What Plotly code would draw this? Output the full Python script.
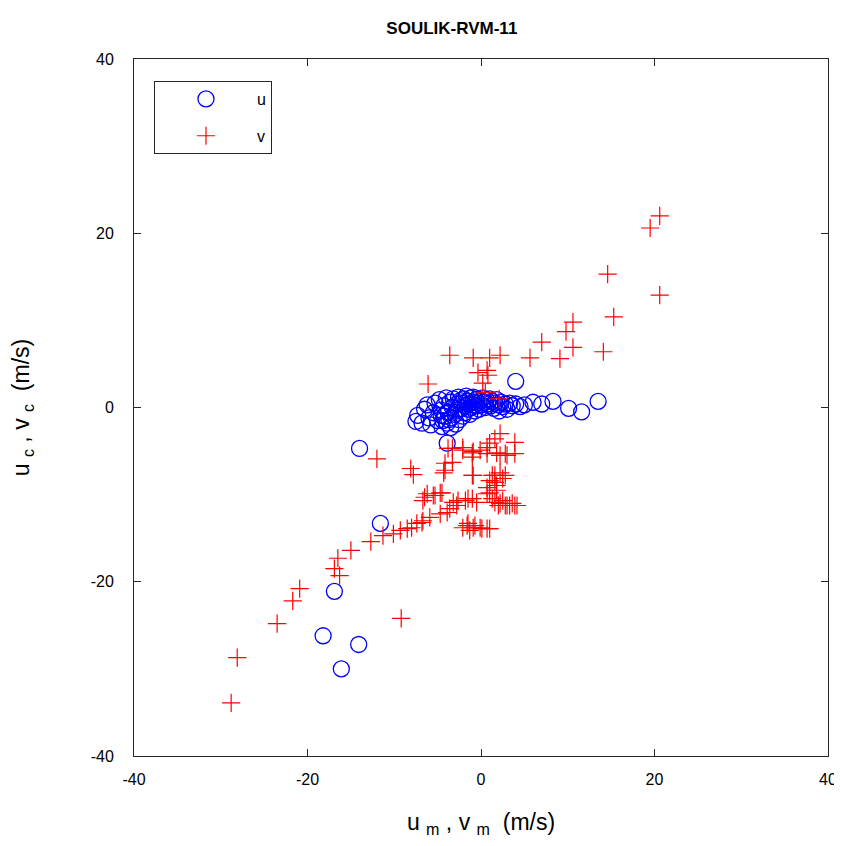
import plotly.graph_objects as go

# u component (circles): model u_m vs. observed u_c
u_m = [-7.5, -7.3, -6.8, -6.5, -6.2, -6.0, -5.8, -5.5, -5.3, -5.0, -4.8, -4.6, -4.5, -4.3, -4.2,
       -4.0, -3.9, -3.8, -3.6, -3.5, -3.4, -3.3, -3.2, -3.0, -2.9, -2.8, -2.7, -2.6, -2.5, -2.4,
       -2.3, -2.2, -2.0, -1.9, -1.8, -1.7, -1.6, -1.5, -1.4, -1.2, -1.1, -1.0, -0.9, -0.8, -0.7,
       -0.6, -0.5, -0.4, -0.3, -0.2, 0.0, 0.1, 0.2, 0.4, 0.5, 0.6, 0.8, 1.0, 1.1, 1.3,
       1.5, 1.6, 1.8, 2.0, 2.1, 2.3, 2.5, 2.8, 3.0, 3.3, 3.6, 4.0, 4.5, 5.0,
       -4.4, -4.6, -3.7, -2.1, -1.3,
       6.0, 7.0, 8.3, 10.1, 11.6, 13.5,
       4.0, -3.9, -14.0, -11.6, -16.9, -18.2, -16.1, -14.1]
u_c = [-1.6, -0.9, -1.8, -0.2, 0.3, -1.2, -2.0, -0.6, 0.5, -1.5, 0.9, -0.3, -2.2, 0.2, -1.0,
       1.1, -1.8, -0.5, 0.6, -2.3, -1.2, 0.0, 1.0, -0.8, -1.9, 0.4, -0.3, 1.2, -1.4, 0.8,
       -0.1, 0.5, 1.0, -0.6, 0.2, 1.3, 0.7, -0.2, 0.4, 1.1, 0.0, 0.6, 1.2, 0.3, -0.4,
       0.9, 0.2, 1.0, 0.5, -0.2, 0.8, 0.3, 1.1, 0.6, 0.0, 0.9, 0.4, 1.0, 0.2, 0.7,
       -0.1, 0.5, 0.9, 0.3, -0.4, 0.6, 0.1, 0.4, -0.2, 0.5, 0.2, 0.4, 0.1, 0.3,
       -1.5, -0.9, -1.4, -1.0, -0.8,
       0.6, 0.4, 0.7, -0.1, -0.5, 0.7,
       3.0, -4.1, -4.7, -13.3, -21.1, -26.2, -30.0, -27.2]

# v component (pluses): model v_m vs. observed v_c
v_m = [20.6, 19.5, 20.6, 14.6, 15.3, 10.6, 9.8, 7.0, 10.6, 14.1, 9.1, 5.65, 2.2, 1.0, -0.9, -3.6,
       -0.35, 0.7, 0.8, -6.1, 0.2, 0.5, 2.1,
       -3.8, -3.3, -2.1, -2.1, -1.0, -0.9, -0.1, 0.7, 0.7, 1.0, 1.6, 2.2, 1.8, 2.8, 2.2, 3.0,
       3.9, 3.9, -1.0,
       -8.1, -7.8, -4.15, -3.3, -4.15, -4.3, -1.0, -0.9, 1.0, 1.3, 1.6, 1.6, 2.2, 2.5, 2.8,
       1.8, 0.7, 0.7, 1.0, 1.3, 1.8,
       -6.5, -6.2, -5.5, -5.3, -4.7, -4.5, -6.7, -3.2, -2.65, -1.8, -1.5, -1.0, -0.5, -2.8,
       -3.6, -3.9, -4.7, 1.6, 2.0, 2.2, 2.5, 2.8, 3.0, 3.3, 3.6, 3.9, 4.15,
       -5.9, -6.7, -6.8, -7.4, -8.0, -8.5, -9.3, -10.1, -2.1, -1.6, -1.5, -1.3, -0.9, -0.7,
       -0.1, 0.1, 0.7, 1.0,
       -12.0, -11.3, -12.7, -15.0, -16.5, -16.9, -16.3, -20.9, -21.7, -23.5, -28.1, -28.8, -9.2]
v_c = [22.0, 20.6, 12.9, 15.3, 10.4, 9.8, 8.7, 7.5, 6.9, 6.4, 5.6, 5.7, 6.0, 5.7, 5.7, 6.0,
       4.0, 4.25, 3.7, 2.7, 2.8, 1.7, 1.0,
       -4.7, -4.7, -4.6, -4.9, -5.2, -5.05, -4.9, -4.6, -5.3, -4.1, -3.6, -3.0, -5.2, -5.3, -5.5, -5.5,
       -4.0, -5.3, -5.7,
       -7.0, -7.7, -6.4, -6.3, -7.2, -7.5, -7.8, -7.8, -8.4, -7.8, -7.8, -8.6, -7.5, -8.15, -7.8,
       -8.95, -9.2, -9.9, -9.8, -10.45, -9.5,
       -10.3, -9.9, -10.1, -10.1, -9.8, -9.8, -10.7, -10.9, -10.7, -10.7, -10.45, -10.45, -10.9, -11.25,
       -11.6, -12.05, -12.2, -10.9, -11.25, -11.0, -10.7, -11.25, -11.25, -11.25, -11.0, -11.25, -11.25,
       -12.6, -13.0, -13.2, -13.3, -13.8, -13.9, -14.1, -14.5, -13.8, -13.55, -13.3, -14.1, -13.8, -13.55,
       -13.8, -13.9, -13.9, -13.9,
       -5.9, -14.7, -15.4, -16.4, -17.3, -18.5, -19.3, -20.8, -22.2, -24.8, -28.7, -33.9, -24.2]

ticks = [-40, -20, 0, 20, 40]

fig = go.Figure()
fig.add_trace(go.Scatter(
    x=u_m, y=u_c, mode="markers", name="u", legendgroup="u",
    marker=dict(symbol="circle-open", size=16, color="#0000FF", line=dict(width=1.3, color="#0000FF")),
))
fig.add_trace(go.Scatter(
    x=v_m, y=v_c, mode="markers", name="v", legendgroup="v",
    marker=dict(symbol="cross-thin", size=13, color="#FF0000", line=dict(width=1.2, color="#FF0000")),
))

axis_common = dict(
    range=[-40, 40], tickvals=ticks, ticktext=[str(t) for t in ticks],
    ticks="inside", ticklen=7, tickwidth=1, tickcolor="#262626",
    showline=True, linecolor="#262626", linewidth=1, mirror="ticks",
    showgrid=False, zeroline=False, automargin=False,
    tickfont=dict(family="Liberation Sans, Arial", size=16, color="#000000"),
)

# the page body adds an 8px offset, so the figure is sized 834x838
fig.update_layout(
    width=834, height=838,
    margin=dict(l=126, r=14, t=51, b=90),
    paper_bgcolor="white", plot_bgcolor="white",
    title=dict(text="<b>SOULIK-RVM-11</b>", xref="paper", x=0.458, xanchor="center",
               yref="container", y=0.976, yanchor="middle",
               font=dict(family="Liberation Sans, Arial", size=17, color="#000000")),
    xaxis=dict(axis_common, ticklabelstandoff=9,
               title=dict(text="u <sub>m</sub> , v <sub>m</sub>  (m/s)", standoff=26,
                          font=dict(family="Liberation Sans, Arial", size=23, color="#000000"))),
    yaxis=dict(axis_common, ticklabelstandoff=16,
               title=dict(text="u <sub>c</sub> , v <sub>c</sub>  (m/s)", standoff=55,
                          font=dict(family="Liberation Sans, Arial", size=23, color="#000000"))),
    legend=dict(x=0.0288, y=0.9684, xanchor="left", yanchor="top",
                bordercolor="#262626", borderwidth=1, bgcolor="white",
                itemwidth=92, tracegroupgap=13,
                font=dict(family="Liberation Sans, Arial", size=16, color="#000000")),
    showlegend=True,
)

fig.write_html("out.html")
